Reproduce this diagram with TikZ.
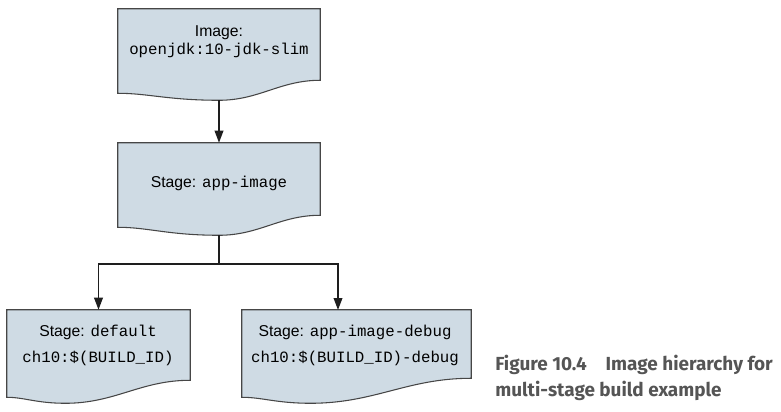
\documentclass[tikz,border=0pt]{standalone}
\usepackage{fontspec}
\setmainfont{Liberation Sans}
\setmonofont{Liberation Mono}
\newfontfamily\capfont{Fira Sans}
\usetikzlibrary{arrows.meta,calc}
\definecolor{docfillc}{RGB}{207,219,228}
\definecolor{docline}{RGB}{70,70,70}
\definecolor{capgray}{RGB}{85,85,85}
\definecolor{arrowc}{RGB}{30,30,30}
\tikzset{
  docframe/.style={draw=none,fill=none,inner sep=0pt},
  docpaint/.style={fill=docfillc,draw=docline,line width=0.8pt},
  boxtext/.style={align=center,inner sep=0pt,font=\fontsize{11.8pt}{19.5pt}\selectfont},
  conn/.style={draw=arrowc,line width=1.1pt},
  arr/.style={conn,-{Triangle[length=9pt,width=6.5pt]}},
  captext/.style={align=left,inner sep=0pt,text=capgray,font=\capfont\bfseries\fontsize{14.2pt}{19.5pt}\selectfont}
}
% #1 node, #2 dip fraction, #3 left rise (px), #4 right rise (px)
\newcommand\docshape[4]{%
  \path[docpaint] let \p1=(#1.south west), \p2=(#1.north east) in
  (\x1,\y2) -- (\x2,\y2) -- (\x2,{\y1+#4*0.75pt})
  .. controls ({\x2-0.4*(1-#2)*(\x2-\x1)},{\y1+#4*0.75pt}) and ({\x1+#2*(\x2-\x1)+0.4*(1-#2)*(\x2-\x1)},\y1) .. ({\x1+#2*(\x2-\x1)},\y1)
  .. controls ({\x1+0.5*#2*(\x2-\x1)},\y1) and ({\x1+0.3*#2*(\x2-\x1)},{\y1+#3*0.75pt}) .. (\x1,{\y1+#3*0.75pt}) -- cycle;}
\begin{document}
\begin{tikzpicture}[x=0.75pt,y=-0.75pt]
\useasboundingbox (0,0) rectangle (781,411);
% frames
\node[docframe,minimum width=202*0.75pt,minimum height=91*0.75pt] (A) at (219,54.5) {};
\node[docframe,minimum width=202*0.75pt,minimum height=92*0.75pt] (B) at (219,189) {};
\node[docframe,minimum width=183*0.75pt,minimum height=93*0.75pt] (C) at (98.5,356.5) {};
\node[docframe,minimum width=229*0.75pt,minimum height=93*0.75pt] (D) at (356.5,356.5) {};
\docshape{A}{0.5}{7}{20}
\docshape{B}{0.5}{8}{20}
\docshape{C}{0.32}{6}{23}
\docshape{D}{0.3}{6}{25}
% texts
\node[boxtext,font=\fontsize{11.8pt}{13.5pt}\selectfont] (tA) at (219,42) {Image:\\\texttt{openjdk:10-jdk-slim}};
\node[boxtext] (tB) at (219,183) {Stage: \texttt{app-image}};
\node[boxtext] (tC) at (98,345) {Stage: \texttt{default}\\\texttt{ch10:\$(BUILD\_ID)}};
\node[boxtext] (tD) at (355,345) {Stage: \texttt{app-image-debug}\\\texttt{ch10:\$(BUILD\_ID)-debug}};
% connectors
\coordinate (J) at (219,264);
\coordinate (Dtop) at (338,310);
\draw[arr] (A.south) -- (B.north);
\draw[conn] (B.south) -- (J);
\draw[arr] (J) -| (C.north);
\draw[arr] (J) -| (Dtop);
% caption
\node[captext,anchor=west] (cap) at (495,378) {Figure 10.4\quad Image hierarchy for\\multi-stage build example};
\end{tikzpicture}
\end{document}
